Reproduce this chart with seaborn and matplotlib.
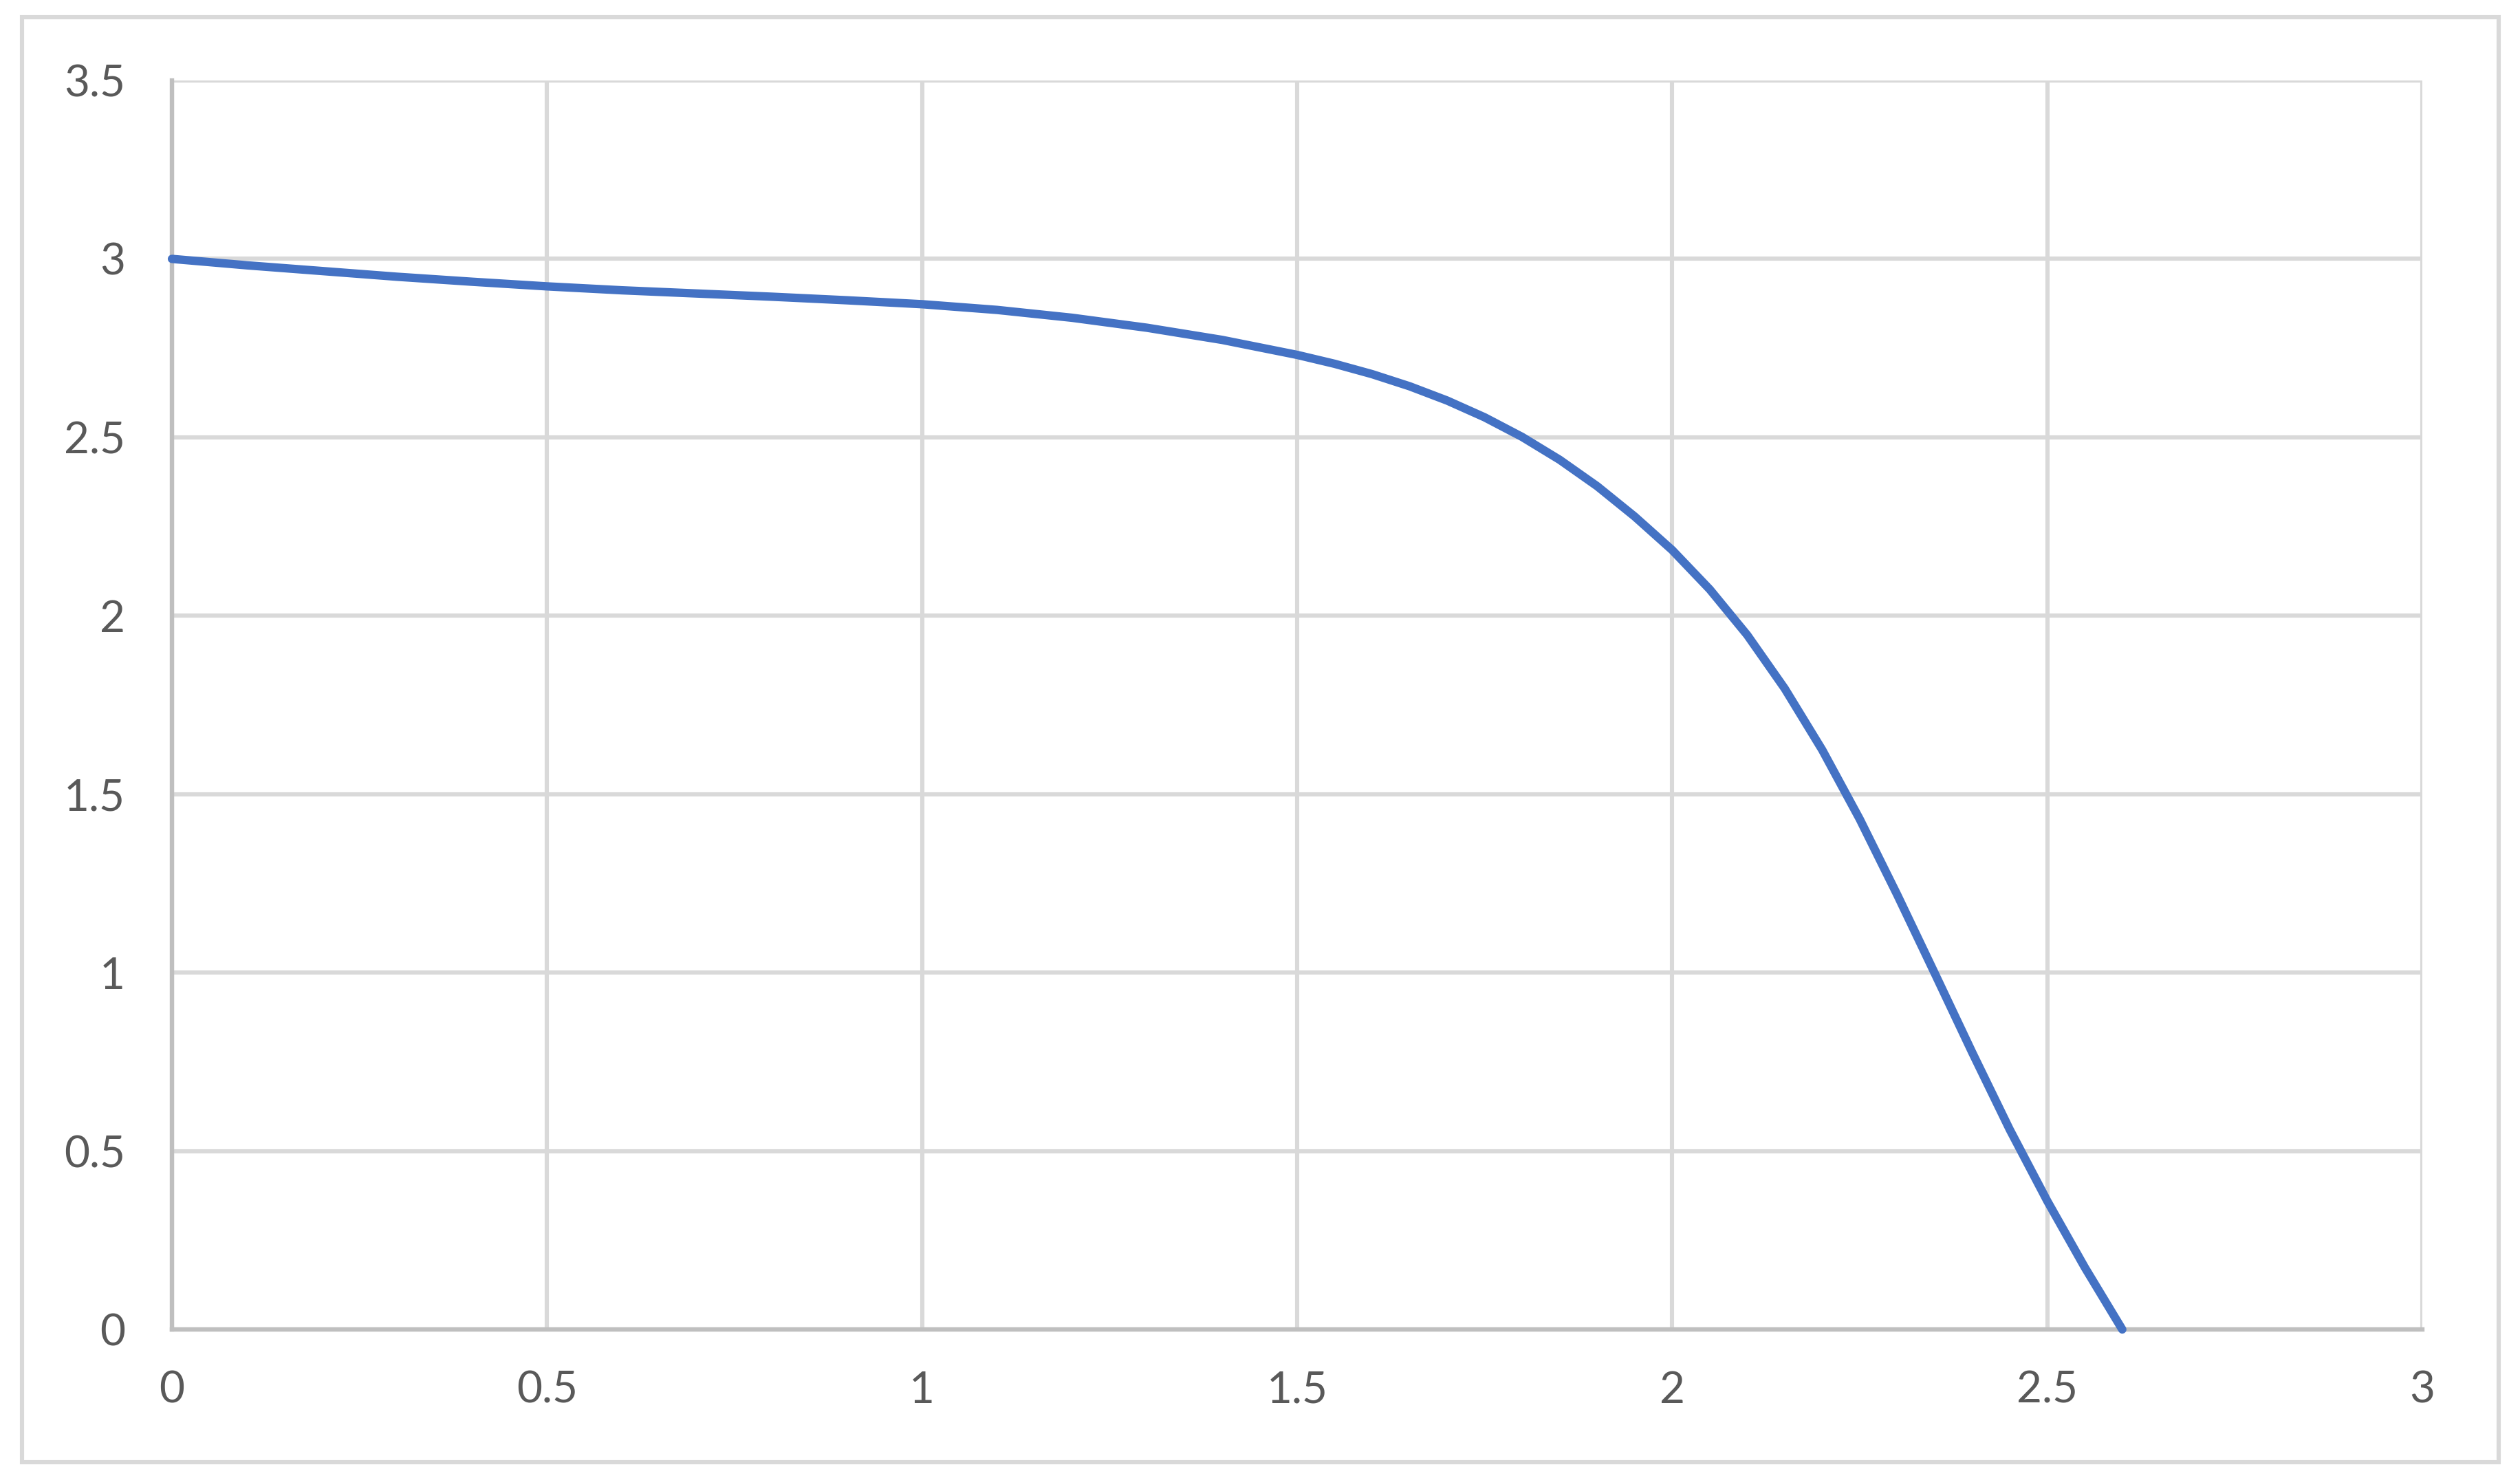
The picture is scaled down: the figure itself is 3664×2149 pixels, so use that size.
import matplotlib
matplotlib.use("Agg")
import matplotlib.pyplot as plt
import seaborn as sns
import pandas as pd
from matplotlib.patches import Rectangle

# ---- data ----
x_values = [0.0, 0.1, 0.2, 0.3, 0.4, 0.5, 0.6, 0.7, 0.8, 0.9, 1.0, 1.1, 1.2, 1.3, 1.4,
            1.5, 1.55, 1.6, 1.65, 1.7, 1.75, 1.8, 1.85, 1.9, 1.95, 2.0, 2.05, 2.1, 2.15,
            2.2, 2.25, 2.3, 2.35, 2.4, 2.45, 2.5, 2.55, 2.6]
y_values = [3.000, 2.982, 2.966, 2.950, 2.936, 2.923, 2.912, 2.903, 2.894, 2.884, 2.873,
            2.857, 2.835, 2.807, 2.773, 2.731, 2.706, 2.677, 2.643, 2.603, 2.556, 2.501,
            2.437, 2.363, 2.278, 2.184, 2.074, 1.946, 1.796, 1.624, 1.430, 1.218, 0.998,
            0.776, 0.560, 0.360, 0.174, 0.000]
x_ticks = [0, 0.5, 1, 1.5, 2, 2.5, 3]
x_tick_labels = ["0", "0.5", "1", "1.5", "2", "2.5", "3"]
y_ticks = [0, 0.5, 1, 1.5, 2, 2.5, 3, 3.5]
y_tick_labels = ["0", "0.5", "1", "1.5", "2", "2.5", "3", "3.5"]

df = pd.DataFrame({"x": x_values, "y": y_values})

sns.set_theme(style="white")
plt.rcParams["font.family"] = ["Lato", "DejaVu Sans"]

W, H, DPI = 3664, 2149, 100
fig = plt.figure(figsize=(W / DPI, H / DPI), dpi=DPI)
fig.patch.set_facecolor("white")

left, right = 250 / W, 3522 / W
bottom, top = 1 - 1933 / H, 1 - 117 / H
ax = fig.add_axes([left, bottom, right - left, top - bottom])

grid_c = "#D9D9D9"
axis_c = "#BFBFBF"
text_c = "#595959"

ax.set_xlim(0, 3)
ax.set_ylim(0, 3.5)
ax.set_xticks(x_ticks)
ax.set_xticklabels(x_tick_labels)
ax.set_yticks(y_ticks)
ax.set_yticklabels(y_tick_labels)

ax.grid(True, color=grid_c, linewidth=4.4, zorder=0)
ax.set_axisbelow(True)

for s in ["top", "right"]:
    ax.spines[s].set_visible(False)
for s in ["left", "bottom"]:
    ax.spines[s].set_color(axis_c)
    ax.spines[s].set_linewidth(4.6)
    ax.spines[s].set_zorder(1)

ax.tick_params(axis="both", which="major", length=17, width=4.6, color=axis_c,
               labelcolor=text_c, labelsize=46, direction="out")
ax.tick_params(axis="y", pad=32)
ax.tick_params(axis="x", pad=26)

sns.lineplot(data=df, x="x", y="y", ax=ax, color="#4472C4", linewidth=8.8,
             solid_capstyle="round", solid_joinstyle="round", sort=False,
             estimator=None, zorder=3, clip_on=False)
ax.set_xlabel("")
ax.set_ylabel("")

# outer chart border
fig.patches.append(Rectangle((32 / W, 1 - 2126 / H), (3633 - 32) / W, (2126 - 25) / H,
                             transform=fig.transFigure, fill=False,
                             edgecolor=grid_c, linewidth=4.4, zorder=0))

fig.savefig("out.png", dpi=DPI, facecolor="white")
